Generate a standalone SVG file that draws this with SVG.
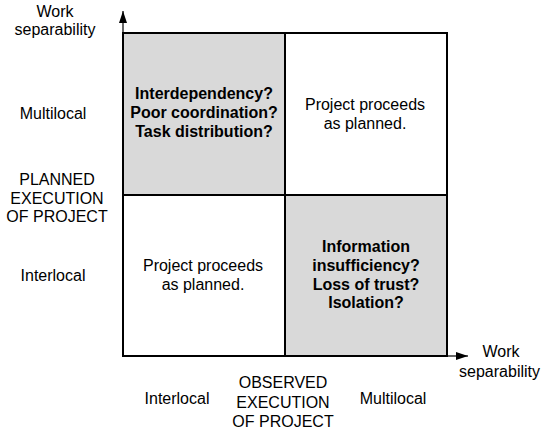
<svg xmlns="http://www.w3.org/2000/svg" width="541" height="433" viewBox="0 0 541 433">
  <defs>
    <marker id="arrow" viewBox="0 0 12 8" refX="12" refY="4" markerWidth="12" markerHeight="8" markerUnits="userSpaceOnUse" orient="auto">
      <path d="M0,0 L12,4 L0,8 Z" fill="#000"/>
    </marker>
    <style>
      text { font-family: "Liberation Sans", Arial, sans-serif; font-size: 16px; fill: #000; text-anchor: middle; }
      .bold { font-weight: bold; }
      .cell { stroke: #000; stroke-width: 2; }
      .hot { fill: #d9d9d9; }
      .calm { fill: #ffffff; }
      .axis { stroke: #000; stroke-width: 1.2; fill: none; }
    </style>
  </defs>

  <!-- axes -->
  <g id="connectors">
    <line class="axis" x1="123" y1="40" x2="123" y2="11" marker-end="url(#arrow)"/>
    <line class="axis" x1="440" y1="356" x2="468" y2="356" marker-end="url(#arrow)"/>
  </g>

  <!-- quadrant: multilocal plan, interlocal observation -->
  <g id="q-top-left">
    <rect class="cell hot" x="123" y="33" width="162" height="162"/>
    <text class="bold" x="204" y="99">Interdependency?</text>
    <text class="bold" x="204" y="118">Poor coordination?</text>
    <text class="bold" x="204" y="137">Task distribution?</text>
  </g>

  <g id="q-top-right">
    <rect class="cell calm" x="285" y="33" width="162" height="162"/>
    <text x="365" y="110">Project proceeds</text>
    <text x="365" y="129">as planned.</text>
  </g>

  <g id="q-bottom-left">
    <rect class="cell calm" x="123" y="195" width="162" height="161"/>
    <text x="203" y="271">Project proceeds</text>
    <text x="203" y="290">as planned.</text>
  </g>

  <g id="q-bottom-right">
    <rect class="cell hot" x="285" y="195" width="162" height="161"/>
    <text class="bold" x="366" y="252">Information</text>
    <text class="bold" x="366" y="271">insufficiency?</text>
    <text class="bold" x="366" y="290">Loss of trust?</text>
    <text class="bold" x="366" y="308">Isolation?</text>
  </g>

  <!-- vertical axis labels -->
  <g id="y-axis-title">
    <text x="55" y="17">Work</text>
    <text x="55" y="35">separability</text>
  </g>
  <g id="y-multilocal"><text x="53" y="119">Multilocal</text></g>
  <g id="y-planned">
    <text x="57" y="185">PLANNED</text>
    <text x="57" y="204">EXECUTION</text>
    <text x="57" y="222">OF PROJECT</text>
  </g>
  <g id="y-interlocal"><text x="53" y="281">Interlocal</text></g>

  <!-- horizontal axis labels -->
  <g id="x-axis-title">
    <text x="501" y="357">Work</text>
    <text x="540" y="377" style="text-anchor:end">separability</text>
  </g>
  <g id="x-interlocal"><text x="177" y="404">Interlocal</text></g>
  <g id="x-observed">
    <text x="283" y="388">OBSERVED</text>
    <text x="283" y="408">EXECUTION</text>
    <text x="283" y="427">OF PROJECT</text>
  </g>
  <g id="x-multilocal"><text x="393" y="404">Multilocal</text></g>
</svg>
